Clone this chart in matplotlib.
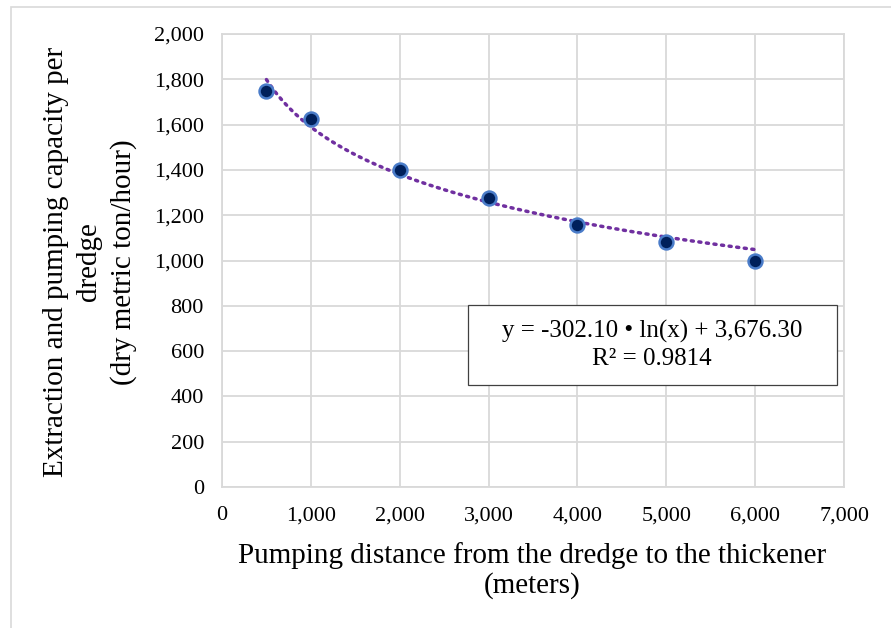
import numpy as np
import matplotlib
matplotlib.use('Agg')
from matplotlib import pyplot as plt
from matplotlib.patches import Rectangle

plt.rcParams['font.family'] = ['Liberation Serif', 'DejaVu Serif']

distance = [500, 1000, 2000, 3000, 4000, 5000, 6000]
capacity = [1750, 1625, 1400, 1275, 1155, 1080, 1000]
fit_a = -302.10
fit_b = 3676.30
r2 = 0.9814

fig = plt.figure(figsize=(8.91, 6.28), dpi=100)
W, H = 891, 628
ax = fig.add_axes([222 / W, 1 - 487 / H, (844 - 222) / W, (487 - 34) / H])

# outer chart border (cropped on the right and bottom)
fig.patches.append(Rectangle((11 / W, -0.1), 1.2, 1 - 7 / H + 0.1,
                             transform=fig.transFigure, fill=False,
                             edgecolor='#d9d9d9', linewidth=1.2))

# trendline
xs = np.linspace(min(distance), max(distance), 300)
ax.plot(xs, fit_a * np.log(xs) + fit_b, color='#7030a0', linewidth=2.5,
        linestyle=(0, (0.6, 1.6)), dash_capstyle='round', zorder=3)

ax.plot(distance, capacity, linestyle='none', marker='o', markersize=10,
        markerfacecolor='#00205b', markeredgecolor='#4a7cc9',
        markeredgewidth=1.8, zorder=4)

ax.set_xlim(0, 7000)
ax.set_ylim(0, 2000)
ax.set_xticks(range(0, 7001, 1000))
ax.set_yticks(range(0, 2001, 200))
ax.xaxis.set_major_formatter(matplotlib.ticker.StrMethodFormatter('{x:,.0f}'))
ax.yaxis.set_major_formatter(matplotlib.ticker.StrMethodFormatter('{x:,.0f}'))
ax.tick_params(length=0, labelsize=16)
ax.tick_params(axis='x', pad=14)
ax.tick_params(axis='y', pad=13)
ax.grid(True, color='#d9d9d9', linewidth=1.3)
for s in ax.spines.values():
    s.set_color('#d9d9d9')
    s.set_linewidth(1.3)

fig.text(532 / W, 1 - 571 / H,
         'Pumping distance from the dredge to the thickener\n(meters)',
         ha='center', va='center', fontsize=21, linespacing=1.15)
fig.text(90 / W, 1 - 262 / H,
         'Extraction and pumping capacity per\ndredge\n(dry metric ton/hour)',
         ha='center', va='center', rotation=90, fontsize=21, linespacing=1.35)

# equation box
box = Rectangle((468 / W, 1 - 385 / H), (837 - 468) / W, 80 / H,
                transform=fig.transFigure, facecolor='white',
                edgecolor='#404040', linewidth=0.9, zorder=5)
fig.patches.append(box)
fig.text(652 / W, 1 - 345 / H,
         'y = -302.10 \u2022 ln(x) + 3,676.30\nR\u00b2 = 0.9814',
         ha='center', va='center', fontsize=18, linespacing=1.25, zorder=6)

fig.savefig('out.png', dpi=100)
